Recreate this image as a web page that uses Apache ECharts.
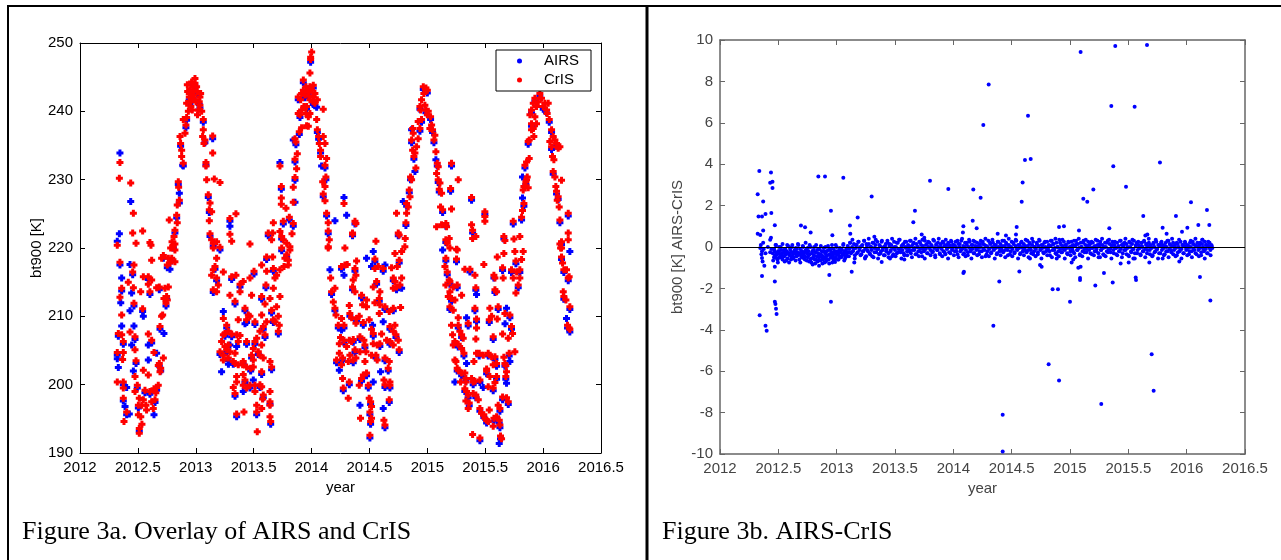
<!DOCTYPE html>
<html><head><meta charset="utf-8">
<script src="https://cdn.jsdelivr.net/npm/echarts@6/dist/echarts.min.js"></script>
<style>html,body{margin:0;padding:0;background:#fff}#c{width:1281px;height:560px}</style>
</head><body><div id="c"></div>
<script>
// ---- Figure 3a: CrIS bt900 [K] vs year ----
const crisData = [
[2012.322,220.4],[2012.345,217.9],[2012.360,214.1],[2012.345,212.8],[2012.360,210.2],[2012.331,207.5],[2012.360,207.3],[2012.374,206.3],[2012.322,204.7],[2012.374,204.7],[2012.368,203.7],[2012.322,200.4],[2012.374,200.4],[2012.374,199.5],[2012.374,198.0],[2012.403,196.0],[2012.380,194.6],[2012.466,217.5],[2012.455,216.5],[2012.417,215.0],[2012.461,214.2],[2012.466,211.9],[2012.432,207.7],[2012.475,207.0],[2012.475,205.1],[2012.484,203.5],[2012.475,201.2],[2012.495,199.9],[2012.475,199.0],[2012.512,198.0],[2012.504,197.0],[2012.504,195.6],[2012.512,193.6],[2012.512,192.9],[2012.524,213.6],[2012.541,211.1],[2012.547,215.8],[2012.590,215.8],[2012.590,214.7],[2012.604,213.6],[2012.619,218.2],[2012.619,215.3],[2012.590,207.4],[2012.619,206.5],[2012.639,204.7],[2012.547,202.1],[2012.590,201.4],[2012.561,199.2],[2012.547,197.8],[2012.570,197.0],[2012.604,199.0],[2012.639,199.4],[2012.662,199.6],[2012.676,199.9],[2012.648,197.8],[2012.633,196.5],[2012.685,203.1],[2012.676,202.8],[2012.697,202.4],[2012.691,201.9],[2012.720,203.9],[2012.662,214.2],[2012.685,214.3],[2012.734,214.1],[2012.763,214.3],[2012.748,212.9],[2012.725,212.6],[2012.743,211.9],[2012.754,212.4],[2012.705,210.0],[2012.691,208.5],[2012.714,210.2],[2012.705,218.5],[2012.720,218.9],[2012.763,218.5],[2012.754,217.5],[2012.777,217.8],[2012.792,218.5],[2012.820,218.0],[2012.783,220.0],[2012.806,220.4],[2012.820,219.7],
[2012.533,197.0],[2012.575,196.3],[2012.619,197.5],[2012.655,198.8],[2012.525,195.3],[2012.535,194.2],
[2012.345,232.5],[2012.340,230.2],[2012.438,229.5],[2012.461,225.1],[2012.455,222.2],[2012.484,220.7],[2012.541,222.5],[2012.604,220.8],[2012.613,220.4],[2012.771,224.1],[2012.849,229.7],[2012.852,228.9],[2012.858,227.0],[2012.840,226.3],[2012.835,224.8],[2012.840,223.7],[2012.820,222.6],[2012.812,221.7],[2012.795,220.9],[2012.820,220.6],
[2012.864,236.3],[2012.869,235.3],[2012.878,234.3],[2012.878,233.4],[2012.892,232.4],[2012.907,236.8],[2012.915,238.0],[2012.892,238.8],[2012.921,239.1],[2012.936,240.0],[2012.950,241.4],[2012.944,242.6],[2012.964,244.3],[2012.993,244.8],[2012.979,243.1],[2012.993,241.7],[2013.013,242.9],[2013.036,242.1],[2013.036,240.9],[2013.022,240.2],[2013.051,240.0],[2013.065,238.8],[2013.059,236.3],[2013.079,235.8],[2013.071,235.3],[2013.065,237.3],[2013.146,236.4],[2013.146,233.9],[2013.088,232.5],[2013.088,232.0],[2013.094,230.0],[2013.108,227.8],[2013.123,226.6],[2013.117,225.6],[2013.137,225.3],[2013.160,230.1],[2013.209,229.6],[2013.117,224.0],[2013.123,222.1],[2013.137,221.2],[2013.151,220.7],[2013.180,220.9],[2013.209,220.1],[2013.295,224.3],[2013.347,225.0],[2013.295,222.0],[2013.310,221.0],[2013.468,220.6],[2013.670,223.7],[2013.626,222.2],[2013.664,222.2],[2013.655,221.2],
[2012.927,243.9],[2012.950,243.1],[2012.973,243.6],[2012.993,244.1],[2013.007,243.6],[2012.944,242.1],[2012.964,241.9],[2012.984,242.4],[2013.002,241.4],[2012.921,241.2],[2012.958,240.7],[2013.030,241.4],[2013.042,242.6],[2012.930,242.9],[2012.970,240.2],[2013.015,239.5],
[2013.727,232.0],[2013.739,229.0],[2013.739,227.3],[2013.739,226.4],[2013.756,223.9],[2013.779,225.8],[2013.808,224.5],[2013.727,222.4],[2013.742,221.7],[2013.756,221.2],[2013.785,220.7],[2013.813,220.2],[2013.831,222.1],[2013.842,223.6],[2013.842,226.7],[2013.842,228.9],[2013.857,230.3],[2013.871,231.6],[2013.857,233.0],[2013.877,233.8],[2013.865,235.5],[2013.857,236.0],[2013.894,237.0],[2013.914,237.6],[2013.900,239.5],[2013.885,239.7],[2013.914,242.6],[2013.929,244.6],[2013.957,243.1],[2013.986,243.6],[2013.980,242.2],[2013.986,245.6],[2013.992,247.6],[2014.001,248.7],[2013.992,247.9],[2014.015,243.8],[2014.029,242.6],[2014.015,241.4],[2013.986,239.7],[2013.957,240.7],[2013.972,239.2],[2013.957,237.9],[2014.044,238.8],[2014.050,237.3],[2014.101,240.3],[2014.061,236.3],[2014.067,235.3],[2014.078,234.3],[2014.101,236.3],[2014.116,235.3],[2014.078,233.4],[2014.116,232.1],[2014.130,233.1],[2014.124,230.4],[2014.096,229.7],[2014.116,229.0],[2014.101,227.9],[2014.116,226.9],[2014.130,225.1],[2014.144,223.7],[2014.144,222.5],[2014.153,221.2],[2014.144,220.2],
[2013.885,242.1],[2013.906,241.7],[2013.929,243.1],[2013.943,242.4],[2013.952,243.6],[2013.972,242.9],[2014.001,243.1],[2014.015,242.1],[2013.934,240.7],[2013.914,240.2],[2013.986,241.7],[2014.029,241.2],[2014.050,241.7],[2013.972,237.8],[2013.952,239.7],
[2013.742,220.0],[2013.813,219.7],[2013.762,217.3],[2013.799,217.5],[2013.770,218.5],[2013.785,219.0],[2013.799,218.2],
[2013.151,220.0],[2013.180,218.5],[2013.166,217.3],[2013.151,216.8],[2013.137,216.0],[2013.180,215.6],[2013.195,214.6],[2013.151,213.9],[2013.180,213.6],[2013.238,216.5],[2013.310,215.8],[2013.347,216.0],[2013.382,214.7],[2013.410,215.1],[2013.295,213.1],[2013.339,212.2],[2013.382,213.6],[2013.468,215.6],[2013.503,216.6],[2013.569,217.5],[2013.612,218.7],[2013.664,218.7],[2013.612,216.6],[2013.670,217.0],[2013.698,216.0],[2013.684,215.6],[2013.727,216.8],[2013.606,214.6],[2013.670,214.1],[2013.727,212.9],[2013.569,212.9],[2013.598,211.8],[2013.641,212.6],[2013.655,210.9],[2013.698,211.4],[2013.482,213.1],[2013.425,211.2],[2013.454,210.2],[2013.238,209.7],[2013.267,208.7],[2013.367,209.5],[2013.439,209.5],[2013.468,210.0],[2013.511,209.2],[2013.569,210.2],[2013.583,208.5],[2013.612,209.2],[2013.670,209.5],[2013.713,210.0],[2013.721,208.7],[2013.713,207.8],[2013.684,209.2],[2013.554,207.8],[2013.598,207.3],[2013.526,206.8],[2013.439,206.3],[2013.252,207.5],[2013.238,207.3],[2013.281,207.8],[2013.310,207.4],[2013.353,207.3],[2013.382,207.2],[2013.223,206.3],[2013.209,204.8],[2013.252,205.6],[2013.281,205.8],[2013.267,205.1],[2013.238,204.3],[2013.295,204.8],[2013.281,203.9],[2013.339,204.6],[2013.324,203.4],[2013.238,203.6],[2013.367,206.3],[2013.511,206.3],[2013.497,205.3],[2013.569,205.8],[2013.540,204.8],[2013.554,204.3],[2013.583,203.9],[2013.482,204.3],[2013.497,203.6],[2013.410,203.4],[2013.405,202.9],[2013.439,202.6],[2013.474,202.4],[2013.497,202.6],[2013.367,202.9],[2013.339,203.1],[2013.569,201.9],[2013.641,203.4],[2013.655,202.6],[2013.353,201.2],[2013.410,201.5],[2013.425,200.7],[2013.410,199.9],[2013.439,199.5],[2013.468,199.9],[2013.511,199.9],[2013.554,200.0],[2013.569,199.7],[2013.324,199.6],[2013.339,198.7],[2013.353,200.4],[2013.511,199.0],[2013.583,198.5],[2013.577,197.9],[2013.641,199.0],[2013.641,197.5],[2013.641,197.0],[2013.526,197.0],[2013.526,196.0],[2013.569,196.5],[2013.416,196.0],[2013.353,195.7],[2013.641,195.3],[2013.647,194.6],[2013.531,193.1],
[2014.144,220.0],[2014.165,215.6],[2014.173,213.6],[2014.202,214.1],[2014.188,212.1],[2014.202,211.2],[2014.211,210.2],[2014.231,208.7],[2014.240,206.0],[2014.216,203.6],[2014.240,204.6],
[2014.280,226.5],[2014.375,223.9],[2014.383,223.6],[2014.354,222.2],[2014.354,222.0],[2014.288,220.0],[2014.556,221.0],[2014.734,225.1],[2014.749,222.2],[2014.757,221.9],[2014.815,223.7],[2014.809,221.4],[2014.806,220.2],[2014.821,226.5],[2014.835,226.0],[2014.821,225.1],[2014.844,228.5],[2014.850,227.5],[2014.855,230.4],[2014.864,230.0],[2014.901,231.7],[2014.884,233.4],[2014.873,234.3],[2014.893,233.9],[2014.864,235.8],[2014.878,236.8],[2014.907,234.8],[2014.921,236.0],[2014.936,237.5],[2014.921,238.5],[2014.873,237.5],[2014.950,238.8],[2014.942,240.2],[2014.936,240.7],[2014.950,241.7],[2014.970,242.6],[2014.965,243.6],[2014.988,243.4],[2015.000,243.1],[2014.979,240.9],[2014.988,240.2],[2015.008,240.0],[2015.000,239.5],[2015.028,239.2],[2015.022,237.5],[2015.037,238.0],[2015.045,237.3],[2015.065,236.5],[2015.057,235.8],[2015.074,234.1],[2015.086,232.4],[2015.094,231.9],[2015.080,230.9],[2015.094,230.0],[2015.109,229.5],[2015.103,228.6],[2015.123,228.0],[2015.114,226.0],[2015.132,225.6],[2015.160,223.6],[2015.166,223.1],[2015.160,221.2],[2015.172,220.7],[2015.189,221.4],[2015.195,220.0],[2015.209,232.4],[2015.267,230.0],[2015.201,228.7],[2015.209,225.7],[2015.080,223.1],[2015.123,223.4],[2015.252,219.8],[2015.382,227.4],[2015.382,223.4],[2015.391,222.6],[2015.391,221.4],[2015.419,221.7],[2015.497,225.3],[2015.497,224.6],[2015.497,223.9],[2015.661,221.7],[2015.670,221.1],[2015.742,223.9],[2015.748,221.3],[2015.799,221.7],[2015.814,224.5],[2015.822,225.5],[2015.834,226.5],[2015.828,228.5],[2015.834,229.0],[2015.851,229.7],[2015.863,230.4],[2015.857,230.0],[2015.871,228.8],[2015.843,232.1],[2015.857,232.6],[2015.880,233.1],[2015.871,235.6],[2015.880,235.8],[2015.900,237.3],[2015.900,238.2],[2015.886,239.5],[2015.900,240.2],[2015.915,241.2],[2015.929,241.9],[2015.943,240.7],[2015.958,241.4],[2015.972,242.6],[2015.986,241.9],[2016.001,240.7],[2016.015,241.2],[2016.030,240.2],[2016.044,241.2],[2016.053,238.8],[2016.035,239.7],[2015.929,239.2],[2015.915,237.5],[2015.920,236.3],[2015.943,238.2],[2016.073,237.3],[2016.087,236.3],[2016.058,235.6],[2016.073,234.8],[2016.102,235.8],[2016.116,235.3],[2016.130,234.6],[2016.145,234.8],[2016.081,233.4],[2016.093,232.9],[2016.087,231.2],[2016.102,230.4],[2016.110,229.0],[2016.116,228.3],[2016.159,229.9],[2016.130,227.5],[2016.122,227.0],[2016.139,226.0],[2016.145,224.1],[2016.217,225.1],[2016.159,220.9],[2016.145,220.6],[2016.217,222.2],[2016.217,221.2],[2016.159,220.0],
[2014.259,217.3],[2014.288,217.5],[2014.308,217.6],[2014.375,217.0],[2014.389,218.1],[2014.383,216.0],[2014.360,215.3],[2014.354,214.3],[2014.375,213.6],[2014.432,213.1],[2014.441,211.7],[2014.475,212.4],[2014.547,218.4],[2014.547,217.0],[2014.562,215.1],[2014.533,214.3],[2014.590,213.6],[2014.585,212.6],[2014.547,212.0],[2014.475,211.4],[2014.576,217.3],[2014.619,217.0],[2014.691,217.1],[2014.706,215.6],[2014.720,219.2],[2014.757,218.2],[2014.778,219.5],[2014.740,217.3],[2014.734,214.3],[2014.763,214.6],[2014.778,215.6],[2014.720,215.1],[2014.706,214.1],[2014.590,211.7],[2014.634,211.4],[2014.671,210.7],[2014.706,211.2],[2014.769,211.3],[2014.585,210.4],[2014.326,211.6],[2014.331,210.4],[2014.346,209.8],[2014.259,209.7],[2014.389,209.7],[2014.412,210.0],[2014.280,208.7],[2014.383,209.0],[2014.447,209.1],[2014.498,209.5],[2014.518,208.1],[2014.533,207.5],[2014.605,207.4],[2014.677,208.5],[2014.706,207.8],[2014.720,208.7],[2014.729,207.3],[2014.250,206.9],[2014.280,206.5],[2014.326,206.5],[2014.360,206.6],[2014.303,205.6],[2014.346,206.3],[2014.418,207.0],[2014.452,206.5],[2014.461,205.8],[2014.470,204.8],[2014.418,204.8],[2014.375,205.1],[2014.383,203.9],[2014.331,204.3],[2014.268,203.9],[2014.259,202.9],[2014.317,203.4],[2014.360,203.6],[2014.533,206.0],[2014.567,205.8],[2014.590,206.0],[2014.648,206.5],[2014.677,206.3],[2014.706,205.8],[2014.749,206.5],[2014.757,205.1],[2014.556,204.3],[2014.518,204.3],[2014.567,203.6],[2014.634,203.9],[2014.671,203.4],[2014.662,202.4],[2014.461,203.4],[2014.475,201.7],[2014.447,201.4],[2014.432,200.9],[2014.412,199.9],[2014.326,200.4],[2014.268,200.9],[2014.274,199.5],[2014.317,198.0],[2014.490,199.9],[2014.625,200.7],[2014.634,200.0],[2014.677,200.4],[2014.677,199.9],[2014.498,198.0],[2014.510,197.5],[2014.518,196.8],[2014.504,196.0],[2014.518,195.1],[2014.510,194.6],[2014.671,197.8],[2014.423,195.1],[2014.625,194.8],[2014.634,194.1],[2014.504,192.6],
[2015.160,218.5],[2015.258,219.7],[2015.252,218.4],[2015.152,217.3],[2015.172,216.5],[2015.189,215.3],[2015.195,215.1],[2015.160,214.6],[2015.224,214.3],[2015.258,214.6],[2015.324,216.9],[2015.368,216.9],[2015.411,216.0],[2015.419,214.2],[2015.488,217.6],[2015.575,216.0],[2015.584,215.6],[2015.604,218.7],[2015.650,217.1],[2015.655,215.6],[2015.661,219.2],[2015.727,216.8],[2015.756,219.5],[2015.765,218.1],[2015.771,216.5],[2015.799,216.8],[2015.814,218.3],[2015.828,219.5],[2015.742,215.6],[2015.785,214.6],[2015.799,215.6],[2015.765,213.4],[2015.584,213.9],[2015.598,213.6],[2015.195,213.6],[2015.181,212.9],[2015.209,212.6],[2015.238,212.4],[2015.195,211.4],[2015.224,210.9],[2015.296,213.1],[2015.411,211.2],[2015.540,211.2],[2015.612,211.4],[2015.670,210.4],[2015.713,210.2],[2015.555,210.0],[2015.535,209.5],[2015.604,209.6],[2015.425,209.6],[2015.267,209.8],[2015.209,208.7],[2015.267,208.7],[2015.353,209.0],[2015.425,208.3],[2015.218,207.3],[2015.238,206.3],[2015.281,207.8],[2015.296,207.3],[2015.310,206.8],[2015.224,205.8],[2015.267,205.9],[2015.296,205.3],[2015.316,204.6],[2015.419,206.7],[2015.569,207.0],[2015.650,207.4],[2015.699,206.8],[2015.727,208.5],[2015.736,207.5],[2015.756,204.8],[2015.707,204.6],[2015.661,204.0],[2015.670,203.1],[2015.678,202.8],[2015.584,204.1],[2015.555,204.1],[2015.526,204.6],[2015.483,204.3],[2015.425,204.6],[2015.448,204.6],[2015.402,203.4],[2015.238,203.6],[2015.247,203.4],[2015.258,202.4],[2015.267,202.1],[2015.296,201.7],[2015.324,201.7],[2015.333,200.9],[2015.382,200.9],[2015.396,200.4],[2015.411,200.5],[2015.454,200.7],[2015.512,202.3],[2015.512,202.0],[2015.526,199.7],[2015.569,199.5],[2015.584,200.3],[2015.598,201.2],[2015.569,202.9],[2015.598,203.1],[2015.540,201.2],[2015.678,201.2],[2015.684,201.9],[2015.287,200.4],[2015.333,200.4],[2015.324,199.4],[2015.339,199.0],[2015.353,198.5],[2015.333,197.6],[2015.362,197.3],[2015.353,196.5],[2015.396,198.7],[2015.419,198.5],[2015.440,197.8],[2015.454,196.5],[2015.468,195.8],[2015.488,195.6],[2015.497,195.1],[2015.512,194.8],[2015.526,194.6],[2015.535,196.3],[2015.575,195.1],[2015.598,195.3],[2015.621,194.8],[2015.612,197.0],[2015.627,196.5],[2015.650,198.2],[2015.684,198.1],[2015.699,197.5],[2015.569,193.9],[2015.627,194.1],[2015.391,192.7],[2015.454,192.2],[2015.632,192.5],[2015.641,192.1],
[2016.151,220.0],[2016.159,218.7],[2016.168,217.8],[2016.179,216.8],[2016.202,216.8],[2016.217,215.6],[2016.225,215.8],[2016.174,213.6],[2016.179,212.9],[2016.197,212.4],[2016.231,211.4],[2016.211,208.7],[2016.225,208.3],[2016.231,208.1]
];

// ---- Figure 3a: AIRS bt900 [K] vs year ----
const airsData = [
[2012.345,233.9],[2012.438,226.8],[2012.340,222.1],[2012.322,221.0],[2012.360,215.6],[2012.352,212.0],[2012.360,208.6],[2012.322,203.8],[2012.331,202.5],[2012.403,199.6],[2012.389,196.8],[2012.426,195.7],[2012.432,217.6],[2012.446,213.4],[2012.432,210.8],[2012.466,208.6],[2012.446,205.8],[2012.461,202.0],[2012.547,210.0],[2012.590,205.8],[2012.590,203.6],[2012.639,195.6],[2012.662,204.6],[2012.725,207.5],[2012.777,216.9],[2012.858,228.0],[2012.887,232.1],[2013.295,223.2],[2013.727,232.5],[2013.857,226.7],[2013.842,235.8],[2014.044,240.6],[2014.087,232.0],[2014.202,224.0],[2014.159,216.8],[2014.240,202.1],[2014.280,227.4],[2014.303,224.8],[2014.792,226.8],[2014.893,231.2],[2014.864,237.3],[2015.074,232.9],[2015.822,227.3],[2015.822,230.4],[2014.280,216.0],[2014.475,218.5],[2014.533,219.5],[2014.518,217.3],[2014.634,217.5],[2014.778,214.1],[2014.619,209.2],[2014.527,208.7],[2014.259,208.0],[2014.596,201.9],[2014.619,196.5],[2014.418,197.0],[2014.533,200.4],[2015.132,219.7],[2015.425,213.2],[2015.684,211.2],[2015.339,209.8],[2015.671,208.9],[2015.713,203.4],[2015.339,203.1],[2015.238,200.4],[2015.483,199.6],[2015.684,200.2],[2015.621,191.4],[2016.231,219.5],[2016.202,209.7],[2013.238,210.7],[2013.425,208.9],[2013.295,205.8],[2013.353,205.6],[2013.223,201.9],[2013.410,199.0],[2013.497,200.7],[2013.282,203.0],
[2012.345,217.5],[2012.360,213.7],[2012.331,207.1],[2012.374,205.9],[2012.322,204.3],[2012.374,200.0],[2012.374,197.6],[2012.403,195.6],[2012.455,216.1],[2012.466,211.5],[2012.475,206.6],[2012.484,203.1],[2012.495,199.5],[2012.504,196.6],[2012.512,193.2],[2012.541,210.7],[2012.590,215.4],[2012.604,213.2],[2012.619,206.1],[2012.561,198.8],[2012.604,198.6],[2012.662,199.2],[2012.648,197.4],[2012.685,202.7],[2012.697,202.0],[2012.685,213.9],[2012.748,212.5],[2012.743,211.5],[2012.691,208.1],[2012.720,218.5],[2012.754,217.1],[2012.792,218.1],[2012.806,220.0],
[2012.849,229.3],[2012.858,226.6],[2012.835,224.4],[2012.820,222.2],[2012.869,234.9],[2012.892,232.0],[2012.915,237.6],[2012.921,238.7],[2012.950,241.0],[2012.964,243.9],[2012.979,242.7],[2013.013,242.5],[2013.036,240.5],[2013.065,238.4],[2013.079,235.4],[2013.146,236.0],[2013.088,232.1],[2013.108,227.4],[2013.117,225.2],[2013.123,221.7],[2013.151,220.3],[2013.209,219.7],[2013.295,223.9],[2013.626,221.8],[2012.944,241.7],[2012.993,243.7],[2013.030,241.0],
[2013.739,228.6],[2013.756,223.5],[2013.808,224.1],[2013.742,221.3],[2013.842,223.2],[2013.857,229.9],[2013.857,232.6],[2013.865,235.1],[2013.894,236.6],[2013.900,239.1],[2013.929,244.2],[2013.986,243.2],[2013.992,247.2],[2014.015,243.4],[2014.015,241.0],[2013.957,240.3],[2014.050,236.9],[2014.061,235.9],[2014.078,233.9],[2014.116,231.7],[2014.124,230.0],[2014.101,227.5],[2014.130,224.7],[2014.144,222.1],[2013.885,241.7],[2013.943,242.0],[2013.972,242.5],[2014.029,240.8],[2013.742,219.6],[2013.785,218.6],
[2013.166,216.9],[2013.180,215.2],[2013.151,213.5],[2013.310,215.4],[2013.382,214.3],[2013.339,211.8],[2013.503,216.2],[2013.612,218.3],[2013.670,216.6],[2013.606,214.2],[2013.569,212.5],[2013.655,210.5],[2013.425,210.8],[2013.267,208.3],[2013.439,209.1],[2013.511,208.8],[2013.583,208.1],[2013.670,209.1],[2013.713,207.4],[2013.598,206.9],[2013.439,205.9],[2013.252,207.1],[2013.310,207.0],[2013.209,204.4],[2013.267,204.7],[2013.281,203.5],[2013.324,203.0],[2013.511,205.9],[2013.540,204.4],[2013.482,203.9],[2013.410,203.0],[2013.474,202.0],[2013.569,201.5],[2013.655,202.2],[2013.425,200.3],[2013.468,199.5],[2013.554,199.6],[2013.339,198.3],[2013.583,198.1],[2013.641,197.1],[2013.526,195.6],[2013.353,195.3],[2013.647,194.2],
[2014.173,213.2],[2014.202,210.8],[2014.231,208.3],[2014.216,203.2],
[2014.375,223.5],[2014.354,221.8],[2014.749,221.8],[2014.815,223.3],[2014.821,226.1],[2014.844,228.1],[2014.855,230.0],[2014.884,233.0],[2014.864,235.4],[2014.936,237.1],[2014.950,238.4],[2014.936,240.3],[2014.965,243.2],[2015.000,242.7],[2014.988,239.8],[2015.028,238.8],[2015.045,236.9],[2015.057,235.4],[2015.086,232.0],[2015.094,229.6],[2015.103,228.2],[2015.132,225.2],[2015.160,223.2],[2015.160,220.8],[2015.209,232.0],[2015.201,228.3],[2015.382,227.0],[2015.391,222.2],[2015.497,224.9],[2015.661,221.3],[2015.742,223.5],[2015.814,224.1],[2015.834,226.1],[2015.851,229.3],[2015.843,231.7],[2015.871,235.2],[2015.900,237.8],[2015.900,239.8],[2015.929,241.5],[2015.972,242.2],[2016.001,240.3],[2016.030,239.8],[2016.053,238.4],[2016.073,236.9],[2016.073,234.4],[2016.116,234.9],[2016.087,230.8],[2016.116,227.9],[2016.130,227.1],[2016.145,223.7],[2016.159,220.5],[2016.217,224.7],
[2014.259,216.9],[2014.375,216.6],[2014.354,213.9],[2014.432,212.7],[2014.547,218.0],[2014.562,214.7],[2014.585,212.2],[2014.619,216.6],[2014.706,215.2],[2014.757,217.8],[2014.734,213.9],[2014.634,211.0],[2014.706,210.8],[2014.331,210.0],[2014.389,209.3],[2014.280,208.3],[2014.447,208.7],[2014.533,207.1],[2014.677,208.1],[2014.729,206.9],[2014.280,206.1],[2014.360,206.2],[2014.418,206.6],[2014.461,205.4],[2014.375,204.7],[2014.268,203.5],[2014.360,203.2],[2014.590,205.6],[2014.677,205.9],[2014.757,204.7],[2014.556,203.9],[2014.634,203.5],[2014.662,202.0],[2014.475,201.3],[2014.432,200.5],[2014.326,200.0],[2014.274,199.1],[2014.490,199.5],[2014.634,199.6],[2014.677,199.5],[2014.510,197.1],[2014.504,195.6],[2014.510,194.2],[2014.671,197.4],[2014.634,193.7],[2014.504,192.2],
[2015.160,218.1],[2015.252,218.0],[2015.172,216.1],[2015.195,214.7],[2015.258,214.2],[2015.368,216.5],[2015.419,213.8],[2015.575,215.6],[2015.650,216.7],[2015.727,216.4],[2015.765,217.7],[2015.799,216.4],[2015.785,214.2],[2015.584,213.5],[2015.209,212.2],[2015.195,211.0],[2015.411,210.8],[2015.612,211.0],[2015.713,209.8],[2015.535,209.1],[2015.425,209.2],[2015.267,208.3],[2015.353,208.6],[2015.238,205.9],[2015.296,206.9],[2015.267,205.5],[2015.316,204.2],[2015.569,206.6],[2015.727,208.1],[2015.707,204.2],[2015.670,202.7],[2015.584,203.7],[2015.526,204.2],[2015.448,204.2],[2015.258,202.0],[2015.296,201.3],[2015.333,200.5],[2015.396,200.0],[2015.454,200.3],[2015.512,201.6],[2015.569,199.1],[2015.598,200.8],[2015.598,202.7],[2015.678,200.8],[2015.324,199.0],[2015.353,198.1],[2015.362,196.9],[2015.419,198.1],[2015.454,196.1],[2015.488,195.2],[2015.512,194.4],[2015.575,194.7],[2015.621,194.4],[2015.627,196.1],[2015.650,197.8],[2015.699,197.1],[2015.627,193.7],[2015.454,191.8],[2015.632,192.1],
[2016.159,218.3],[2016.179,216.4],[2016.217,215.2],[2016.179,212.5],[2016.231,211.0],[2016.211,208.3],[2016.231,207.7]
];

// ---- Figure 3b: AIRS-CrIS [K] vs year ----
const diffData = [
[2012.337,3.67],[2012.323,2.55],[2012.33,1.47],[2012.36,1.47],[2012.37,2.2],[2012.39,1.6],[2012.437,3.6],[2012.43,3.1],[2012.45,3.15],[2012.45,2.85],[2012.44,1.64],[2012.47,1.05],[2012.323,0.64],[2012.345,0.58],[2012.37,0.8],[2012.37,0.2],[2012.43,0.35],[2012.437,0.45],[2012.36,-0.53],[2012.365,-0.7],[2012.38,-0.9],[2012.36,-1.4],[2012.47,-0.96],[2012.47,-1.67],[2012.47,-2.64],[2012.475,-2.75],[2012.48,-2.98],[2012.485,-3.24],[2012.34,-3.3],[2012.39,-3.8],[2012.4,-4.04],[2012.951,-2.64],
[2012.345,-0.05],[2012.35,0.1],[2012.36,-0.2],[2012.375,-0.1],[2012.39,-0.3],[2012.41,0.0],[2012.43,-0.25],[2012.44,-0.1],[2012.355,-0.35],
[2012.694,1.04],[2012.729,0.95],[2012.777,0.7],[2012.843,3.4],[2012.9,3.4],[2013.057,3.35],[2012.951,1.75],[2012.963,0.57],[2013.114,1.04],[2013.117,0.64],[2013.18,1.43],[2013.3,2.44],[2013.323,0.5],[2012.849,-0.9],[2012.937,-1.35],[2012.986,-0.72],[2013.065,-0.65],[2013.129,-1.2],[2013.151,-0.75],[2013.657,1.2],[2013.671,1.75],[2013.729,0.6],[2013.751,0.45],[2013.8,3.2],[2013.957,2.8],[2014.086,1.0],[2014.082,0.7],[2014.086,-1.25],[2013.58,-0.6],[2013.457,-0.55],[2013.386,-0.72],[2013.243,-0.55],
[2015.091,9.42],[2015.388,9.71],[2015.660,9.76],[2014.303,7.85],[2014.257,5.89],[2015.354,6.81],[2015.554,6.78],[2014.640,6.34],[2014.614,4.2],[2014.663,4.25],[2015.371,3.9],[2015.771,4.08],[2014.594,3.12],[2014.586,2.19],[2014.171,2.78],[2014.234,2.38],[2015.114,2.33],[2015.148,2.19],[2015.2,2.78],[2015.48,2.91],[2016.037,2.16],[2016.174,1.79],[2015.628,1.5],[2015.908,1.5],[2016.1,1.06],[2016.194,1.06],[2015.794,0.93],[2015.828,0.64],[2015.96,0.74],[2016.006,0.93],[2014.166,1.27],[2014.2,0.9],[2014.38,0.64],[2014.451,0.55],[2014.543,0.97],[2014.537,0.6],[2014.906,0.97],[2014.948,1.0],[2015.077,0.8],[2015.337,0.9],[2015.646,0.56],[2015.663,0.6],[2016.134,0.35],
[2014.091,-1.2],[2014.566,-1.18],[2014.743,-0.87],[2014.757,-0.95],[2014.657,-0.55],[2015.014,-0.75],[2015.028,-0.6],[2015.071,-1.0],[2015.091,-0.95],[2015.086,-1.5],[2015.291,-1.25],[2015.434,-0.8],[2015.503,-0.75],[2015.543,-0.55],[2015.68,-0.75],[2015.794,-0.55],[2015.937,-0.7],[2016.114,-1.45],[2015.563,-1.47],[2014.886,-0.55],[2015.257,-0.5],
[2014.394,-1.67],[2014.343,-3.81],[2014.423,-8.1],[2014.423,-9.88],[2014.851,-2.04],[2014.897,-2.04],[2015.0,-2.64],[2015.086,-1.6],[2015.217,-1.86],[2015.366,-1.72],[2015.566,-1.6],[2014.817,-5.67],[2014.906,-6.45],[2015.268,-7.58],[2015.7,-5.18],[2015.717,-6.94],[2016.203,-2.59],
[2012.452,-0.3],[2012.458,-0.1],[2012.463,-0.5],[2012.470,-0.2],[2012.476,0.1],[2012.482,-0.4],[2012.488,-0.3],[2012.494,-0.6],[2012.500,-0.2],[2012.506,0.0],[2012.512,-0.35],[2012.518,-0.5],[2012.524,-0.15],[2012.530,-0.3],[2012.536,0.15],[2012.542,-0.45],[2012.548,-0.25],[2012.554,-0.7],[2012.560,-0.1],[2012.566,-0.35],[2012.572,-0.2],[2012.578,-0.55],[2012.584,0.05],[2012.590,-0.3],[2012.596,-0.4],[2012.602,-0.15],[2012.608,-0.6],[2012.614,-0.25],[2012.620,0.1],[2012.626,-0.35],[2012.632,-0.5],[2012.638,-0.2],[2012.644,-0.3],[2012.650,-0.05],[2012.656,-0.45],[2012.662,-0.25],[2012.668,0.15],[2012.674,-0.35],[2012.680,-0.6],[2012.686,-0.1],[2012.692,-0.3],[2012.698,-0.2],[2012.704,-0.5],[2012.710,0.05],[2012.716,-0.35],[2012.722,-0.25],[2012.728,-0.45],[2012.734,0.2],[2012.740,-0.15],[2012.746,-0.3],
[2012.752,-0.5],[2012.758,-0.2],[2012.764,-0.7],[2012.770,-0.35],[2012.776,0.0],[2012.782,-0.55],[2012.788,-0.3],[2012.794,-0.85],[2012.800,-0.15],[2012.806,-0.4],[2012.812,-0.6],[2012.818,-0.25],[2012.824,0.1],[2012.830,-0.45],[2012.836,-0.7],[2012.842,-0.3],[2012.848,-0.5],[2012.854,-0.1],[2012.860,-0.65],[2012.866,-0.35],[2012.872,-0.2],[2012.878,-0.8],[2012.884,-0.45],[2012.890,-0.05],[2012.896,-0.55],[2012.902,-0.3],[2012.908,-0.7],[2012.914,-0.2],[2012.920,-0.4],[2012.926,0.05],[2012.932,-0.6],[2012.938,-0.35],[2012.944,-0.15],[2012.950,-0.5],[2012.956,-0.25],[2012.962,-0.75],[2012.968,-0.4],[2012.974,-0.1],[2012.980,-0.3],[2012.986,-0.55],[2012.992,0.1],[2012.998,-0.35],[2013.004,-0.2],[2013.010,-0.6],[2013.016,-0.3],[2013.022,-0.45],[2013.028,-0.05],[2013.034,-0.25],[2013.040,-0.5],[2013.046,-0.15],[2013.052,-0.35],[2013.058,0.15],[2013.064,-0.3],[2013.070,-0.2],[2013.076,-0.45],[2013.082,-0.1],[2013.088,-0.3],[2013.094,0.05],[2013.100,-0.25],
[2013.108,-0.1],[2013.116,0.2],[2013.124,-0.3],[2013.132,0.0],[2013.140,-0.2],[2013.148,0.15],[2013.156,-0.4],[2013.164,-0.05],[2013.172,0.1],[2013.180,-0.25],[2013.188,0.25],[2013.196,-0.15],[2013.204,0.0],[2013.212,-0.35],[2013.220,0.1],[2013.228,-0.2],[2013.236,0.3],[2013.244,-0.1],[2013.252,-0.45],[2013.260,0.05],[2013.268,-0.2],[2013.276,0.15],[2013.284,-0.3],[2013.292,0.0],[2013.300,-0.15],[2013.308,0.2],[2013.316,-0.5],[2013.324,-0.05],[2013.332,0.1],[2013.340,-0.25],[2013.348,0.25],[2013.356,-0.1],[2013.364,-0.35],[2013.372,0.05],[2013.380,-0.2],[2013.388,0.3],[2013.396,-0.15],[2013.404,0.0],[2013.412,-0.4],[2013.420,0.15],[2013.428,-0.1],[2013.436,0.2],[2013.444,-0.3],[2013.452,0.05],[2013.460,-0.2],[2013.468,0.1],[2013.476,-0.45],[2013.484,-0.05],[2013.492,0.25],[2013.500,-0.15],[2013.508,0.0],[2013.516,-0.3],[2013.524,0.2],[2013.532,-0.1],[2013.540,0.35],[2013.548,-0.25],[2013.556,0.05],[2013.564,-0.15],[2013.572,0.15],[2013.580,-0.4],[2013.588,0.0],[2013.596,0.25],[2013.604,-0.2],[2013.612,0.1],[2013.620,-0.1],[2013.628,0.3],[2013.636,-0.3],[2013.644,0.05],[2013.652,-0.15],[2013.660,0.2],[2013.668,-0.05],[2013.676,-0.35],[2013.684,0.15],[2013.692,0.0],[2013.700,-0.2],[2013.708,0.25],[2013.716,-0.1],[2013.724,0.1],[2013.732,-0.45],[2013.740,0.05],[2013.748,-0.2],[2013.756,0.3],[2013.764,-0.1],[2013.772,0.15],[2013.780,-0.3],[2013.788,0.0],[2013.796,0.2],[2013.804,-0.15],[2013.812,0.1],[2013.820,-0.25],[2013.828,0.35],[2013.836,-0.05],[2013.844,-0.4],[2013.852,0.1],[2013.860,-0.15],[2013.868,0.2],[2013.876,0.0],[2013.884,-0.3],[2013.892,0.15],[2013.900,-0.1],[2013.908,0.25],[2013.916,-0.2],[2013.924,0.05],[2013.932,-0.35],[2013.940,0.1],[2013.948,-0.05],[2013.956,0.2],[2013.964,-0.25],[2013.972,0.0],[2013.980,0.3],[2013.988,-0.15],[2013.996,0.1],
[2014.004,0.1],[2014.012,-0.2],[2014.020,0.25],[2014.028,-0.05],[2014.036,-0.35],[2014.044,0.15],[2014.052,0.0],[2014.060,-0.2],[2014.068,0.3],[2014.076,-0.1],[2014.084,0.05],[2014.092,-0.3],[2014.100,0.2],[2014.108,-0.15],[2014.116,0.1],[2014.124,-0.4],[2014.132,0.0],[2014.140,0.25],[2014.148,-0.2],[2014.156,0.1],[2014.164,-0.1],[2014.172,0.3],[2014.180,-0.3],[2014.188,0.05],[2014.196,-0.15],[2014.204,0.2],[2014.212,-0.05],[2014.220,-0.35],[2014.228,0.15],[2014.236,0.0],[2014.244,-0.2],[2014.252,0.25],[2014.260,-0.1],[2014.268,0.1],[2014.276,-0.45],[2014.284,0.05],[2014.292,-0.2],[2014.300,0.3],[2014.308,-0.1],[2014.316,0.15],[2014.324,-0.3],[2014.332,0.0],[2014.340,0.2],[2014.348,-0.15],[2014.356,0.1],[2014.364,-0.05],[2014.372,-0.35],[2014.380,0.25],[2014.388,0.0],[2014.396,-0.2],[2014.404,0.15],[2014.412,-0.1],[2014.420,0.3],[2014.428,-0.25],[2014.436,0.05],[2014.444,-0.15],[2014.452,0.2],[2014.460,-0.05],[2014.468,-0.4],[2014.476,0.1],[2014.484,0.0],[2014.492,-0.2],[2014.500,0.25],[2014.508,-0.1],[2014.516,0.15],[2014.524,-0.3],[2014.532,0.05],[2014.540,0.3],[2014.548,-0.15],[2014.556,0.1],[2014.564,-0.05],[2014.572,-0.35],[2014.580,0.2],[2014.588,0.0],[2014.596,-0.2],[2014.604,0.15],[2014.612,-0.1],[2014.620,0.35],[2014.628,-0.25],[2014.636,0.05],[2014.644,-0.15],[2014.652,0.2],[2014.660,-0.05],[2014.668,-0.3],[2014.676,0.1],[2014.684,0.25],[2014.692,-0.2],[2014.700,0.0],[2014.708,-0.1],[2014.716,0.15],[2014.724,-0.35],[2014.732,0.05],[2014.740,0.3],[2014.748,-0.15],[2014.756,0.1],[2014.764,-0.05],[2014.772,-0.25],[2014.780,0.2],[2014.788,0.0],[2014.796,-0.2],[2014.804,0.25],[2014.812,-0.1],[2014.820,0.1],[2014.828,-0.4],[2014.836,0.05],[2014.844,0.3],[2014.852,-0.15],[2014.860,0.15],[2014.868,-0.05],[2014.876,-0.3],[2014.884,0.2],[2014.892,0.0],[2014.900,-0.2],[2014.908,0.35],[2014.916,-0.1],[2014.924,0.1],[2014.932,-0.25],[2014.940,0.05],[2014.948,0.25],[2014.956,-0.15],[2014.964,0.1],[2014.972,-0.05],[2014.980,-0.35],[2014.988,0.2],[2014.996,0.0],
[2015.004,-0.2],[2015.012,0.25],[2015.020,-0.1],[2015.028,0.1],[2015.036,-0.3],[2015.044,0.05],[2015.052,0.3],[2015.060,-0.15],[2015.068,0.15],[2015.076,-0.05],[2015.084,-0.4],[2015.092,0.2],[2015.100,0.0],[2015.108,-0.2],[2015.116,0.3],[2015.124,-0.1],[2015.132,0.1],[2015.140,-0.25],[2015.148,0.05],[2015.156,0.25],[2015.164,-0.15],[2015.172,0.15],[2015.180,-0.05],[2015.188,-0.35],[2015.196,0.2],[2015.204,0.0],[2015.212,-0.2],[2015.220,0.35],[2015.228,-0.1],[2015.236,0.1],[2015.244,-0.3],[2015.252,0.05],[2015.260,0.25],[2015.268,-0.15],[2015.276,0.1],[2015.284,-0.05],[2015.292,-0.4],[2015.300,0.2],[2015.308,0.0],[2015.316,-0.2],[2015.324,0.3],[2015.332,-0.1],[2015.340,0.15],[2015.348,-0.25],[2015.356,0.05],[2015.364,0.25],[2015.372,-0.15],[2015.380,0.1],[2015.388,-0.05],[2015.396,-0.35],[2015.404,0.2],[2015.412,0.0],[2015.420,-0.2],[2015.428,0.3],[2015.436,-0.1],[2015.444,0.1],[2015.452,-0.3],[2015.460,0.05],[2015.468,0.2],[2015.476,-0.15],[2015.484,0.15],[2015.492,-0.05],[2015.500,-0.4],[2015.508,0.25],[2015.516,0.0],[2015.524,-0.2],[2015.532,0.15],[2015.540,-0.1],[2015.548,0.3],[2015.556,-0.3],[2015.564,0.05],[2015.572,0.2],[2015.580,-0.15],[2015.588,0.1],[2015.596,-0.05],[2015.604,-0.35],[2015.612,0.2],[2015.620,0.0],[2015.628,-0.2],[2015.636,0.25],[2015.644,-0.1],[2015.652,0.1],[2015.660,-0.3],[2015.668,0.05],[2015.676,0.2],[2015.684,-0.15],[2015.692,0.1],[2015.700,-0.05],[2015.708,-0.4],[2015.716,0.15],[2015.724,0.0],[2015.732,-0.2],[2015.740,0.25],[2015.748,-0.1],[2015.756,0.1],[2015.764,-0.3],[2015.772,0.05],[2015.780,0.2],[2015.788,-0.15],[2015.796,0.1],[2015.804,-0.05],[2015.812,-0.35],[2015.820,0.2],[2015.828,0.0],[2015.836,-0.2],[2015.844,0.3],[2015.852,-0.1],[2015.860,0.1],[2015.868,-0.25],[2015.876,0.05],[2015.884,0.2],[2015.892,-0.15],[2015.900,0.1],[2015.908,-0.05],[2015.916,-0.4],[2015.924,0.15],[2015.932,0.0],[2015.940,-0.2],[2015.948,0.25],[2015.956,-0.1],[2015.964,0.1],[2015.972,-0.3],[2015.980,0.05],[2015.988,0.2],[2015.996,-0.15],
[2016.004,0.1],[2016.012,-0.05],[2016.020,-0.35],[2016.028,0.2],[2016.036,0.0],[2016.044,-0.2],[2016.052,0.25],[2016.060,-0.1],[2016.068,0.1],[2016.076,-0.3],[2016.084,0.05],[2016.092,0.2],[2016.100,-0.15],[2016.108,0.1],[2016.116,-0.05],[2016.124,-0.4],[2016.132,0.15],[2016.140,0.0],[2016.148,-0.2],[2016.156,0.25],[2016.164,-0.1],[2016.172,0.1],[2016.180,-0.3],[2016.188,0.05],[2016.196,0.2],[2016.204,-0.15],[2016.212,0.1],[2016.220,-0.05],
[2012.456,-0.65],[2012.464,-0.1],[2012.472,-0.4],[2012.480,0.1],[2012.488,-0.55],[2012.496,-0.75],[2012.504,-0.2],[2012.512,-0.5],[2012.520,0.0],[2012.528,-0.35],[2012.536,-0.6],[2012.544,-0.15],[2012.552,-0.45],[2012.560,-0.3],[2012.568,-0.65],[2012.576,0.1],[2012.584,-0.3],[2012.592,-0.75],[2012.600,-0.05],[2012.608,-0.45],[2012.616,0.0],[2012.624,-0.55],[2012.632,-0.25],[2012.640,-0.15],[2012.648,-0.65],[2012.656,-0.1],[2012.664,-0.4],[2012.672,0.1],[2012.680,-0.3],[2012.688,-0.75],[2012.696,-0.45],[2012.704,-0.2],[2012.712,0.0],[2012.720,-0.55],[2012.728,-0.6],[2012.736,-0.15],[2012.744,-0.65],[2012.752,-0.05],[2012.760,-0.4],[2012.768,0.1],[2012.776,-0.6],[2012.784,-0.75],[2012.792,-0.2],[2012.800,-0.5],[2012.808,0.0],[2012.816,-0.8],[2012.824,-0.6],[2012.832,-0.15],[2012.840,-0.65],[2012.848,-0.1],[2012.856,-0.4],[2012.864,0.05],[2012.872,-0.5],[2012.880,-0.6],[2012.888,-0.2],[2012.896,-0.75],[2012.904,0.0],[2012.912,-0.45],[2012.920,-0.6],[2012.928,-0.15],[2012.936,-0.8],[2012.944,-0.1],[2012.952,-0.4],[2012.960,0.1],[2012.968,-0.55],[2012.976,-0.65],[2012.984,-0.2],[2012.992,-0.5],[2013.000,0.0],[2013.008,-0.35],[2013.016,-0.6],[2013.024,-0.15],[2013.032,-0.5],[2013.040,-0.1],[2013.048,-0.4],[2013.056,0.1],[2013.064,-0.3],[2013.072,-0.55],[2013.080,-0.2],[2013.088,-0.45],[2013.096,0.0],
[2013.105,-0.45],[2013.115,0.2],[2013.125,-0.25],[2013.135,0.35],[2013.145,-0.1],[2013.155,-0.55],[2013.165,0.1],[2013.175,-0.3],[2013.185,0.25],[2013.195,-0.05],
[2013.205,-0.4],[2013.215,0.05],[2013.225,-0.2],[2013.235,0.3],[2013.245,-0.5],[2013.255,0.15],[2013.265,-0.15],[2013.275,0.4],[2013.285,-0.35],[2013.295,0.0],
[2013.305,-0.45],[2013.315,0.2],[2013.325,-0.25],[2013.335,0.35],[2013.345,-0.1],[2013.355,-0.55],[2013.365,0.1],[2013.375,-0.3],[2013.385,0.25],[2013.395,-0.05],
[2013.405,-0.4],[2013.415,0.05],[2013.425,-0.2],[2013.435,0.3],[2013.445,-0.5],[2013.455,0.15],[2013.465,-0.15],[2013.475,0.4],[2013.485,-0.35],[2013.495,0.0],
[2013.505,-0.45],[2013.515,0.2],[2013.525,-0.25],[2013.535,0.35],[2013.545,-0.1],[2013.555,-0.55],[2013.565,0.1],[2013.575,-0.3],[2013.585,0.25],[2013.595,-0.05],
[2013.605,-0.4],[2013.615,0.05],[2013.625,-0.2],[2013.635,0.3],[2013.645,-0.5],[2013.655,0.15],[2013.665,-0.15],[2013.675,0.4],[2013.685,-0.35],[2013.695,0.0],
[2013.705,-0.45],[2013.715,0.2],[2013.725,-0.25],[2013.735,0.35],[2013.745,-0.1],[2013.755,-0.55],[2013.765,0.1],[2013.775,-0.3],[2013.785,0.25],[2013.795,-0.05],
[2013.805,-0.4],[2013.815,0.05],[2013.825,-0.2],[2013.835,0.3],[2013.845,-0.5],[2013.855,0.15],[2013.865,-0.15],[2013.875,0.4],[2013.885,-0.35],[2013.895,0.0],
[2013.905,-0.45],[2013.915,0.2],[2013.925,-0.25],[2013.935,0.35],[2013.945,-0.1],[2013.955,-0.55],[2013.965,0.1],[2013.975,-0.3],[2013.985,0.25],[2013.995,-0.05],
[2014.005,-0.4],[2014.015,0.05],[2014.025,-0.2],[2014.035,0.3],[2014.045,-0.5],[2014.055,0.15],[2014.065,-0.15],[2014.075,0.4],[2014.085,-0.35],[2014.095,0.0],
[2014.105,-0.45],[2014.115,0.2],[2014.125,-0.25],[2014.135,0.35],[2014.145,-0.1],[2014.155,-0.55],[2014.165,0.1],[2014.175,-0.3],[2014.185,0.25],[2014.195,-0.05],
[2014.205,-0.4],[2014.215,0.05],[2014.225,-0.2],[2014.235,0.3],[2014.245,-0.5],[2014.255,0.15],[2014.265,-0.15],[2014.275,0.4],[2014.285,-0.35],[2014.295,0.0],
[2014.305,-0.45],[2014.315,0.2],[2014.325,-0.25],[2014.335,0.35],[2014.345,-0.1],[2014.355,-0.55],[2014.365,0.1],[2014.375,-0.3],[2014.385,0.25],[2014.395,-0.05],
[2014.405,-0.4],[2014.415,0.05],[2014.425,-0.2],[2014.435,0.3],[2014.445,-0.5],[2014.455,0.15],[2014.465,-0.15],[2014.475,0.4],[2014.485,-0.35],[2014.495,0.0],
[2014.505,-0.45],[2014.515,0.2],[2014.525,-0.25],[2014.535,0.35],[2014.545,-0.1],[2014.555,-0.55],[2014.565,0.1],[2014.575,-0.3],[2014.585,0.25],[2014.595,-0.05],
[2014.605,-0.4],[2014.615,0.05],[2014.625,-0.2],[2014.635,0.3],[2014.645,-0.5],[2014.655,0.15],[2014.665,-0.15],[2014.675,0.4],[2014.685,-0.35],[2014.695,0.0],
[2014.705,-0.45],[2014.715,0.2],[2014.725,-0.25],[2014.735,0.35],[2014.745,-0.1],[2014.755,-0.55],[2014.765,0.1],[2014.775,-0.3],[2014.785,0.25],[2014.795,-0.05],
[2014.805,-0.4],[2014.815,0.05],[2014.825,-0.2],[2014.835,0.3],[2014.845,-0.5],[2014.855,0.15],[2014.865,-0.15],[2014.875,0.4],[2014.885,-0.35],[2014.895,0.0],
[2014.905,-0.45],[2014.915,0.2],[2014.925,-0.25],[2014.935,0.35],[2014.945,-0.1],[2014.955,-0.55],[2014.965,0.1],[2014.975,-0.3],[2014.985,0.25],[2014.995,-0.05],
[2015.005,-0.4],[2015.015,0.05],[2015.025,-0.2],[2015.035,0.3],[2015.045,-0.5],[2015.055,0.15],[2015.065,-0.15],[2015.075,0.4],[2015.085,-0.35],[2015.095,0.0],
[2015.105,-0.45],[2015.115,0.2],[2015.125,-0.25],[2015.135,0.35],[2015.145,-0.1],[2015.155,-0.55],[2015.165,0.1],[2015.175,-0.3],[2015.185,0.25],[2015.195,-0.05],
[2015.205,-0.4],[2015.215,0.05],[2015.225,-0.2],[2015.235,0.3],[2015.245,-0.5],[2015.255,0.15],[2015.265,-0.15],[2015.275,0.4],[2015.285,-0.35],[2015.295,0.0],
[2015.305,-0.45],[2015.315,0.2],[2015.325,-0.25],[2015.335,0.35],[2015.345,-0.1],[2015.355,-0.55],[2015.365,0.1],[2015.375,-0.3],[2015.385,0.25],[2015.395,-0.05],
[2015.405,-0.4],[2015.415,0.05],[2015.425,-0.2],[2015.435,0.3],[2015.445,-0.5],[2015.455,0.15],[2015.465,-0.15],[2015.475,0.4],[2015.485,-0.35],[2015.495,0.0],
[2015.505,-0.45],[2015.515,0.2],[2015.525,-0.25],[2015.535,0.35],[2015.545,-0.1],[2015.555,-0.55],[2015.565,0.1],[2015.575,-0.3],[2015.585,0.25],[2015.595,-0.05],
[2015.605,-0.4],[2015.615,0.05],[2015.625,-0.2],[2015.635,0.3],[2015.645,-0.5],[2015.655,0.15],[2015.665,-0.15],[2015.675,0.4],[2015.685,-0.35],[2015.695,0.0],
[2015.705,-0.45],[2015.715,0.2],[2015.725,-0.25],[2015.735,0.35],[2015.745,-0.1],[2015.755,-0.55],[2015.765,0.1],[2015.775,-0.3],[2015.785,0.25],[2015.795,-0.05],
[2015.805,-0.4],[2015.815,0.05],[2015.825,-0.2],[2015.835,0.3],[2015.845,-0.5],[2015.855,0.15],[2015.865,-0.15],[2015.875,0.4],[2015.885,-0.35],[2015.895,0.0],
[2015.905,-0.45],[2015.915,0.2],[2015.925,-0.25],[2015.935,0.35],[2015.945,-0.1],[2015.955,-0.55],[2015.965,0.1],[2015.975,-0.3],[2015.985,0.25],[2015.995,-0.05],
[2016.005,-0.4],[2016.015,0.05],[2016.025,-0.2],[2016.035,0.3],[2016.045,-0.5],[2016.055,0.15],[2016.065,-0.15],[2016.075,0.4],[2016.085,-0.35],[2016.095,0.0],
[2016.105,-0.45],[2016.115,0.2],[2016.125,-0.25],[2016.135,0.35],[2016.145,-0.1],[2016.155,-0.55],[2016.165,0.1],[2016.175,-0.3],[2016.185,0.25],[2016.195,-0.05],
[2016.205,-0.4],[2016.215,0.05]
];

// ---- axis ranges / labels ----
const xRange = [2012, 2016.5], xStep = 0.5;
const yRangeA = [190, 250], yStepA = 10;
const yRangeB = [-10, 10], yStepB = 2;
const seriesNames = ['AIRS', 'CrIS', 'AIRS-CrIS'];
const captions = ['Figure 3a. Overlay of AIRS and CrIS', 'Figure 3b. AIRS-CrIS'];

const FONT = 'Liberation Sans';
const plusPath = 'path://M2,0H5V2H7V5H5V7H2V5H0V2H2Z';

function xAx(grid, pos, color, lw, labelColor, withName) {
  return {
    gridIndex: grid, type: 'value', min: xRange[0], max: xRange[1], interval: xStep, position: pos,
    axisLine: {onZero: false, lineStyle: {color: color, width: lw}},
    axisTick: {inside: true, length: 5, lineStyle: {color: color, width: 1}},
    axisLabel: {show: withName, margin: 7, color: labelColor, fontSize: 15, fontFamily: FONT, formatter: v => String(v)},
    splitLine: {show: false},
    name: withName ? 'year' : '', nameLocation: 'middle', nameGap: 27,
    nameTextStyle: {color: labelColor, fontSize: 15, fontFamily: FONT}
  };
}
function yAx(grid, pos, range, step, color, lw, labelColor, name) {
  return {
    gridIndex: grid, type: 'value', min: range[0], max: range[1], interval: step, position: pos,
    axisLine: {onZero: false, lineStyle: {color: color, width: lw}},
    axisTick: {inside: true, length: 5, lineStyle: {color: color, width: 1}},
    axisLabel: {show: !!name, margin: 7, color: labelColor, fontSize: 15, fontFamily: FONT},
    splitLine: {show: false},
    name: name || '', nameLocation: 'middle', nameGap: 35, nameRotate: 90,
    nameTextStyle: {color: labelColor, fontSize: 15, fontFamily: FONT}
  };
}

const chart = echarts.init(document.getElementById('c'), null, {renderer: 'canvas'});
chart.setOption({
  animation: false,
  backgroundColor: '#ffffff',
  grid: [
    {left: 80, top: 43, width: 521, height: 410},
    {left: 720, top: 40, width: 525, height: 414}
  ],
  xAxis: [
    xAx(0, 'bottom', '#000', 1, '#000', true),
    xAx(0, 'top', '#000', 1, '#000', false),
    xAx(1, 'bottom', '#666', 1.5, '#444', true),
    xAx(1, 'top', '#666', 1.5, '#444', false)
  ],
  yAxis: [
    yAx(0, 'left', yRangeA, yStepA, '#000', 1, '#000', 'bt900 [K]'),
    yAx(0, 'right', yRangeA, yStepA, '#000', 1, '#000', null),
    yAx(1, 'left', yRangeB, yStepB, '#666', 1.5, '#444', 'bt900 [K] AIRS-CrIS'),
    yAx(1, 'right', yRangeB, yStepB, '#666', 1.5, '#444', null)
  ],
  legend: {
    data: [{name: seriesNames[0], icon: 'circle'}, {name: seriesNames[1], icon: 'circle'}],
    orient: 'vertical', left: 496, top: 50,
    itemWidth: 5, itemHeight: 5, itemGap: 3,
    padding: [3, 12, 3, 21],
    borderColor: '#000', borderWidth: 1, backgroundColor: '#fff',
    itemStyle: {opacity: 1},
    textStyle: {color: '#000', fontSize: 15, fontFamily: FONT, lineHeight: 16, padding: [0, 0, 0, 17]},
    selectedMode: false
  },
  series: [
    {name: seriesNames[0], type: 'scatter', xAxisIndex: 0, yAxisIndex: 0, data: airsData,
     symbol: plusPath, symbolSize: 7, itemStyle: {color: '#0000ff', opacity: 1}, z: 2, silent: true},
    {name: seriesNames[1], type: 'scatter', xAxisIndex: 0, yAxisIndex: 0, data: crisData,
     symbol: plusPath, symbolSize: 7, itemStyle: {color: '#ff0000', opacity: 1}, z: 3, silent: true},
    {name: seriesNames[2], type: 'scatter', xAxisIndex: 2, yAxisIndex: 2, data: diffData,
     symbol: 'circle', symbolSize: 4, itemStyle: {color: '#0000ff', opacity: 1}, z: 2, silent: true,
     markLine: {silent: true, symbol: 'none', label: {show: false}, animation: false,
       lineStyle: {color: '#000', width: 1.2, type: 'solid', opacity: 1}, data: [{yAxis: 0}]}}
  ],
  graphic: [
    {type: 'line', shape: {x1: 8, y1: 5, x2: 8, y2: 575}, style: {stroke: '#000', lineWidth: 2}},
    {type: 'line', shape: {x1: 7, y1: 6, x2: 1285, y2: 6}, style: {stroke: '#000', lineWidth: 2}},
    {type: 'line', shape: {x1: 647, y1: 5, x2: 647, y2: 575}, style: {stroke: '#000', lineWidth: 3}},
    {type: 'text', x: 22, y: 532, style: {text: captions[0], font: '26px "Liberation Serif"', fill: '#000', align: 'left', verticalAlign: 'middle'}},
    {type: 'text', x: 662, y: 532, style: {text: captions[1], font: '26px "Liberation Serif"', fill: '#000', align: 'left', verticalAlign: 'middle'}}
  ]
});
</script>
</body></html>
